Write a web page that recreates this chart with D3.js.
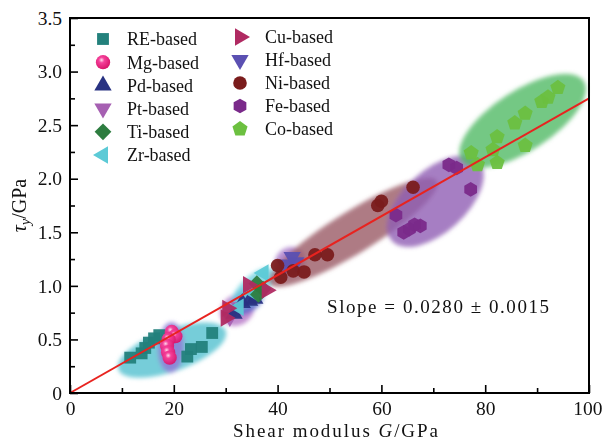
<!DOCTYPE html>
<html><head><meta charset="utf-8">
<script src="https://cdn.jsdelivr.net/npm/d3@7"></script>
<style>body{margin:0;background:#fff}svg{display:block}text{font-family:"Liberation Serif","Times New Roman",serif}</style>
</head><body>
<svg id="c" width="602" height="442"></svg>
<script>
// ---------- data ----------
const seriesNames = ["RE-based","Mg-based","Pd-based","Pt-based","Ti-based","Zr-based","Cu-based","Hf-based","Ni-based","Fe-based","Co-based"];
const reX = [11.6,13.8,14.5,15.2,16.2,17.2,22.6,23.3,25.4,27.4];
const reY = [0.33,0.37,0.42,0.47,0.51,0.54,0.34,0.41,0.43,0.56];
const mgX = [19.6,20.3,19.0,18.7,18.9,19.2];
const mgY = [0.57,0.53,0.50,0.44,0.38,0.33];
const pdX = [31.6,33.2,34.6,35.6];
const pdY = [0.74,0.84,0.86,0.88];
const ptX = [30.8,32.6];
const ptY = [0.71,0.80];
const tiX = [36.0,36.3,37.2];
const tiY = [1.02,0.92,0.97];
const zrX = [37.3,32.5,35.5];
const zrY = [1.12,0.80,0.93];
const cuX = [30.3,30.0,34.3,37.9];
const cuY = [0.79,0.70,1.01,0.96];
const hfX = [41.4,42.8,43.5];
const hfY = [1.20,1.27,1.22];
const niX = [40.0,40.6,43.0,45.1,47.2,49.6,59.3,60.0,66.1];
const niY = [1.19,1.08,1.14,1.13,1.29,1.29,1.75,1.79,1.92];
const feX = [62.8,64.3,65.4,66.4,67.5,73.0,74.5,77.2];
const feY = [1.66,1.50,1.53,1.57,1.56,2.13,2.10,1.90];
const coX = [77.3,78.5,81.5,82.3,82.3,85.7,87.7,87.7,90.9,92.1,94.0];
const coY = [2.24,2.13,2.27,2.39,2.15,2.52,2.61,2.31,2.72,2.76,2.85];
// cluster regions: major-axis end points in data units
const regionNames = ["RE","Mg","Pt","Pd","Zr","Hf","Ni","Fe","Co"];
const regionX1 = [9.3,19.3,29.3,31.2,31.4,40.0,38.5,62.0,75.4];
const regionY1 = [0.22,0.19,0.68,0.77,0.80,1.13,1.02,1.42,2.17];
const regionX2 = [30.0,19.6,35.1,37.0,39.1,44.7,70.7,78.8,99.0];
const regionY2 = [0.58,0.66,0.87,0.96,1.15,1.32,1.98,2.16,2.91];
const fitX = [0,100];
const fitY = [0,2.75];
const xTicks = [0,20,40,60,80,100];
const xMinor = [10,30,50,70,90];
const yTicks = [0,0.5,1.0,1.5,2.0,2.5,3.0,3.5];
const yMinor = [0.25,0.75,1.25,1.75,2.25,2.75,3.25];

// ---------- styles ----------
const W=602,H=442, L=70, R=589, T=18, B=393;
const svg = d3.select("#c");
const x = d3.scaleLinear().domain([0,100]).range([L,R]);
const y = d3.scaleLinear().domain([0,3.5]).range([B,T]);

const regionStyle = {
  RE:{c:"#5ec4d2",w:21,o:0.85}, Mg:{c:"#8e82d6",w:13,o:0.9}, Pt:{c:"#b473c6",w:15,o:0.8},
  Pd:{c:"#4b5fc8",w:12,o:0.75}, Zr:{c:"#6fd2e0",w:12,o:0.8}, Hf:{c:"#a878c8",w:14,o:0.8},
  Ni:{c:"#9a5a66",w:21,o:0.8}, Fe:{c:"#905eb4",w:31,o:0.8}, Co:{c:"#52ba66",w:30,o:0.8}
};

const defs = svg.append("defs");
defs.append("filter").attr("id","blur").attr("x","-20%").attr("y","-20%").attr("width","140%").attr("height","140%")
  .append("feGaussianBlur").attr("stdDeviation",2);
const rg = defs.append("radialGradient").attr("id","mgGrad").attr("cx","40%").attr("cy","35%").attr("r","65%");
rg.append("stop").attr("offset","0%").attr("stop-color","#ffe0ee");
rg.append("stop").attr("offset","30%").attr("stop-color","#f5409a");
rg.append("stop").attr("offset","100%").attr("stop-color","#d8146a");

// polygon symbol type
function poly(n, rot){
  return {draw(ctx,size){
    const r=Math.sqrt(size/ (n/2*Math.sin(2*Math.PI/n)));
    for(let i=0;i<n;i++){
      const a=rot+i*2*Math.PI/n;
      const px=r*Math.sin(a), py=-r*Math.cos(a);
      i?ctx.lineTo(px,py):ctx.moveTo(px,py);
    }
    ctx.closePath();
  }};
}
const shapes = {
  "RE-based":{t:poly(4,Math.PI/4),s:140,c:"#23817c"},
  "Mg-based":{t:d3.symbolCircle,s:160,c:"url(#mgGrad)"},
  "Pd-based":{t:poly(3,0),s:130,c:"#283282"},
  "Pt-based":{t:poly(3,Math.PI),s:130,c:"#a660b2"},
  "Ti-based":{t:poly(4,0),s:140,c:"#2e7d40"},
  "Zr-based":{t:poly(3,-Math.PI/2),s:130,c:"#5ccad6"},
  "Cu-based":{t:poly(3,Math.PI/2),s:130,c:"#b02a62"},
  "Hf-based":{t:poly(3,Math.PI),s:130,c:"#5b50b2"},
  "Ni-based":{t:d3.symbolCircle,s:145,c:"#7a1c1c"},
  "Fe-based":{t:poly(6,0),s:140,c:"#7a2a8a"},
  "Co-based":{t:poly(5,0),s:150,c:"#6cc040"}
};
const seriesData = {
  "RE-based":[reX,reY],"Mg-based":[mgX,mgY],"Pd-based":[pdX,pdY],"Pt-based":[ptX,ptY],
  "Ti-based":[tiX,tiY],"Zr-based":[zrX,zrY],"Cu-based":[cuX,cuY],"Hf-based":[hfX,hfY],
  "Ni-based":[niX,niY],"Fe-based":[feX,feY],"Co-based":[coX,coY]
};

// ---------- regions ----------
const gReg = svg.append("g").attr("filter","url(#blur)");
regionNames.forEach((n,i)=>{
  const px1=x(regionX1[i]), py1=y(regionY1[i]), px2=x(regionX2[i]), py2=y(regionY2[i]);
  const cx=(px1+px2)/2, cy=(py1+py2)/2;
  const rx=Math.hypot(px2-px1,py2-py1)/2;
  const ang=Math.atan2(py2-py1,px2-px1)*180/Math.PI;
  const st=regionStyle[n];
  gReg.append("ellipse").attr("cx",0).attr("cy",0).attr("rx",rx).attr("ry",st.w)
    .attr("transform",`translate(${cx},${cy}) rotate(${ang})`)
    .attr("fill",st.c).attr("fill-opacity",st.o);
});

// ---------- points ----------
const order = ["RE-based","Pt-based","Pd-based","Zr-based","Ti-based","Cu-based","Mg-based","Hf-based","Ni-based","Fe-based","Co-based"];
order.forEach(name=>{
  const [xs,ys]=seriesData[name]; const sh=shapes[name];
  const sym=d3.symbol().type(sh.t).size(sh.s);
  svg.append("g").selectAll("path").data(xs.map((v,i)=>[v,ys[i]])).join("path")
    .attr("d",sym).attr("transform",d=>`translate(${x(d[0])},${y(d[1])})`)
    .attr("fill",sh.c).attr("fill-opacity",0.95);
});

// ---------- fit line ----------
svg.append("line").attr("x1",x(fitX[0])).attr("y1",y(fitY[0])).attr("x2",x(fitX[1])).attr("y2",y(fitY[1]))
  .attr("stroke","#e8231f").attr("stroke-width",2);

// ---------- axes ----------
svg.append("g").attr("class","xax").attr("transform",`translate(0,${B})`)
  .call(d3.axisBottom(x).tickValues(xTicks).tickSize(-8).tickPadding(8).tickFormat(d3.format("d")));
svg.append("g").attr("transform",`translate(0,${B})`)
  .call(d3.axisBottom(x).tickValues(xMinor).tickSize(-5).tickFormat(""));
svg.append("g").attr("transform",`translate(${L},0)`)
  .call(d3.axisLeft(y).tickValues(yTicks).tickSize(-8).tickPadding(8).tickFormat(d=>d===0?"0":d3.format(".1f")(d)));
svg.append("g").attr("transform",`translate(${L},0)`)
  .call(d3.axisLeft(y).tickValues(yMinor).tickSize(-5).tickFormat(""));
svg.selectAll(".domain").remove();
svg.selectAll(".tick line").attr("stroke","#000").attr("stroke-width",1.6);
svg.selectAll(".tick text").attr("font-size",19.5).attr("fill","#111").attr("font-family","'Liberation Serif',serif");
svg.selectAll(".xax .tick text").filter(d=>d===100).attr("text-anchor","end").attr("dx",13);
svg.append("rect").attr("x",L).attr("y",T).attr("width",R-L).attr("height",B-T)
  .attr("fill","none").attr("stroke","#000").attr("stroke-width",2);

// axis titles
const xt = svg.append("text").attr("x",233).attr("y",437).attr("font-size",19).attr("fill","#111")
  .attr("textLength",205).attr("lengthAdjust","spacing");
xt.append("tspan").text("Shear modulus ");
xt.append("tspan").attr("font-style","italic").text("G");
xt.append("tspan").text("/GPa");
const yt = svg.append("text").attr("transform",`translate(26,${(T+B)/2}) rotate(-90)`).attr("text-anchor","middle").attr("font-size",20).attr("fill","#111");
yt.append("tspan").attr("font-style","italic").text("τ");
yt.append("tspan").attr("font-style","italic").attr("font-size",14).attr("dy",4).text("y");
yt.append("tspan").attr("dy",-4).text("/GPa");

// slope annotation
svg.append("text").attr("x",327).attr("y",313).attr("font-size",19).attr("fill","#111")
  .attr("textLength",222).attr("lengthAdjust","spacing")
  .text("Slope = 0.0280 ± 0.0015");

// ---------- legend ----------
const legCols = [{mx:103,tx:127,y0:39,dy:23.2,items:seriesNames.slice(0,6)},{mx:240,tx:265,y0:37,dy:23,items:seriesNames.slice(6)}];
legCols.forEach(col=>{
  col.items.forEach((name,i)=>{
    const sh=shapes[name]; const yy=col.y0+i*col.dy;
    svg.append("path").attr("d",d3.symbol().type(sh.t).size(sh.s)()).attr("transform",`translate(${col.mx},${yy})`).attr("fill",sh.c);
    svg.append("text").attr("x",col.tx).attr("y",yy).attr("dy","0.35em").attr("font-size",18).attr("fill","#111").text(name);
  });
});
</script>
</body></html>
